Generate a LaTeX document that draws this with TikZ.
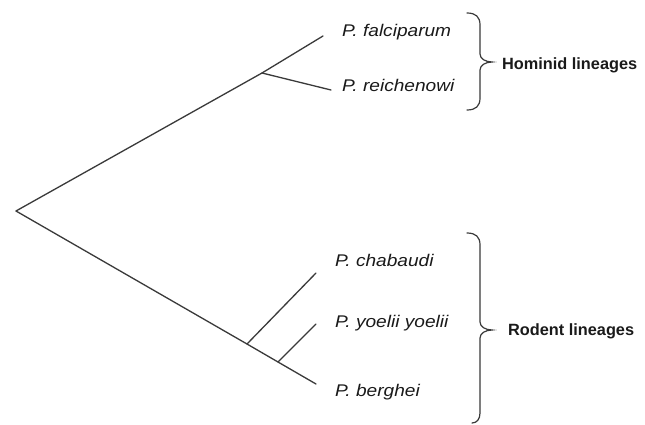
\documentclass[tikz,border=0pt]{standalone}
\usepackage{fontspec}
\setmainfont{Liberation Sans}
\newfontfamily\spfont[FakeStretch=1.13]{Liberation Sans}
\definecolor{linegray}{HTML}{3A3A3A}
\definecolor{textgray}{HTML}{1A1A1A}
\tikzset{
  branch/.style={draw=linegray, line width=1.3pt, line cap=round},
  species/.style={anchor=base west, inner sep=0pt, text=textgray, font=\spfont\itshape\fontsize{16.9}{18}\selectfont},
  lineage/.style={anchor=base west, inner sep=0pt, text=textgray, font=\bfseries\fontsize{16.3}{18}\selectfont},
  bracestyle/.style={draw=linegray, line width=1.2pt, line cap=round}
}
\begin{document}
\begin{tikzpicture}[x=1pt,y=-1pt]
\useasboundingbox[fill=white] (0,0) rectangle (645,425);
% tree coordinates
\coordinate (root) at (16,211);
\coordinate (hom) at (262,73);
\coordinate (rod1) at (247,344);
\coordinate (rod2) at (278,362);
\coordinate (efal) at (323,36);
\coordinate (erei) at (331,90);
\coordinate (echa) at (316,273);
\coordinate (eyoe) at (316,324);
\coordinate (eber) at (316,384);
% branches
\draw[branch] (root) -- (hom) -- (efal);
\draw[branch] (hom) -- (erei);
\draw[branch] (root) -- (rod1) -- (rod2) -- (eber);
\draw[branch] (rod1) -- (echa);
\draw[branch] (rod2) -- (eyoe);
% labels
\node[species] (fal) at (342,36.5) {P. falciparum};
\node[species] (rei) at (342,91.5) {P. reichenowi};
\node[species] (cha) at (335,266) {P. chabaudi};
\node[species] (yoe) at (335,327) {P. yoelii yoelii};
\node[species] (ber) at (335,396.5) {P. berghei};
% braces
\coordinate (hbt) at (467,13);
\coordinate (hbtip) at (492,62);
\coordinate (hbb) at (467,110);
\coordinate (rbt) at (467,233);
\coordinate (rbtip) at (492,330);
\coordinate (rbb) at (472,423);
\draw[bracestyle] (hbt) .. controls (476,13) and (480,17) .. (480,25)
  -- (480,54) .. controls (480,59) and (486,62) .. (hbtip)
  .. controls (486,62) and (480,65) .. (480,70)
  -- (480,98) .. controls (480,106) and (476,110) .. (hbb);
\draw[bracestyle] (rbt) .. controls (476,233) and (480,237) .. (480,245)
  -- (480,322) .. controls (480,327) and (486,330) .. (rbtip)
  .. controls (486,330) and (480,333) .. (480,338)
  -- (480,413) .. controls (480,419) and (477,423) .. (rbb);
\node[lineage] (hlab) at (502,70) {Hominid lineages};
\node[lineage] (rlab) at (508,335) {Rodent lineages};
\end{tikzpicture}
\end{document}
